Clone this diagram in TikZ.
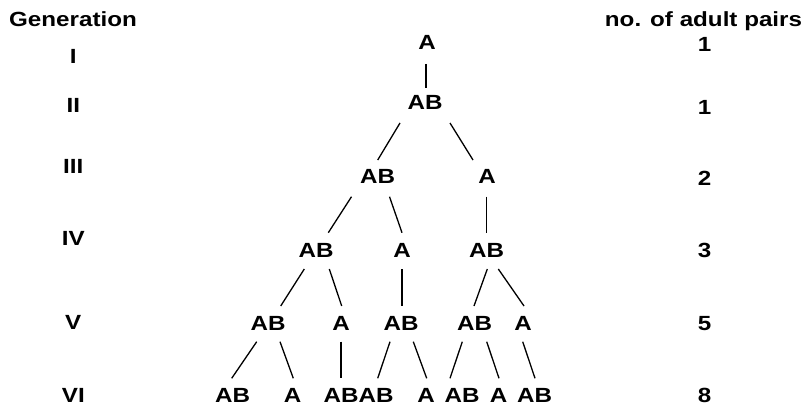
\documentclass[tikz,border=0pt]{standalone}
\usepackage{fontspec}
\usepackage{graphicx}
\newfontfamily\libsans{Liberation Sans}
\newcommand\sx[1]{\scalebox{1.18}[1]{#1}}
\tikzset{
  lbl/.style={font=\libsans\bfseries\fontsize{20.5}{24}\selectfont, anchor=base, inner sep=0pt},
  edge/.style={draw=black, line width=1.3pt}
}
\begin{document}
\begin{tikzpicture}[x=1pt,y=-1pt]
\useasboundingbox[fill=white] (0,0) rectangle (805,409);
% headers
\node[lbl] (hgen) at (73,27) {\sx{Generation}};
\node[lbl] (hpairs) at (703.5,26.7) {\sx{no. of adult pairs}};
% generation numerals
\node[lbl] (g1) at (73.3,63.3) {\sx{I}};
\node[lbl] (g2) at (73.3,113) {\sx{II}};
\node[lbl] (g3) at (73.3,173) {\sx{III}};
\node[lbl] (g4) at (73.3,245) {\sx{IV}};
\node[lbl] (g5) at (73.3,329) {\sx{V}};
\node[lbl] (g6) at (73.3,402.7) {\sx{VI}};
% counts
\node[lbl] (c1) at (704.5,52) {\sx{1}};
\node[lbl] (c2) at (704.5,115) {\sx{1}};
\node[lbl] (c3) at (704.5,185) {\sx{2}};
\node[lbl] (c4) at (704.5,257) {\sx{3}};
\node[lbl] (c5) at (704.5,330) {\sx{5}};
\node[lbl] (c6) at (704.5,402.7) {\sx{8}};
% tree
\node[lbl] (n1) at (427,50) {\sx{A}};
\node[lbl] (n2) at (425,110) {\sx{AB}};
\node[lbl] (n3a) at (377.5,183) {\sx{AB}};
\node[lbl] (n3b) at (487,183) {\sx{A}};
\node[lbl] (n4a) at (316,257) {\sx{AB}};
\node[lbl] (n4b) at (402,257) {\sx{A}};
\node[lbl] (n4c) at (486.5,257) {\sx{AB}};
\node[lbl] (n5a) at (268,330) {\sx{AB}};
\node[lbl] (n5b) at (341,330) {\sx{A}};
\node[lbl] (n5c) at (401,330) {\sx{AB}};
\node[lbl] (n5d) at (474.5,330) {\sx{AB}};
\node[lbl] (n5e) at (523,330) {\sx{A}};
\node[lbl] (n6a) at (232.6,402.7) {\sx{AB}};
\node[lbl] (n6b) at (292.5,402.7) {\sx{A}};
\node[lbl] (n6c) at (341,402.7) {\sx{AB}};
\node[lbl] (n6d) at (376,402.7) {\sx{AB}};
\node[lbl] (n6e) at (426,402.7) {\sx{A}};
\node[lbl] (n6f) at (462,402.7) {\sx{AB}};
\node[lbl] (n6g) at (498.5,402.7) {\sx{A}};
\node[lbl] (n6h) at (534.5,402.7) {\sx{AB}};
% connectors
\draw[edge] ([shift={(-1,14)}]n1.base) -- ([shift={(1,-22)}]n2.base);
\draw[edge] ([shift={(-25,13)}]n2.base) -- ([shift={(0.2,-23)}]n3a.base);
\draw[edge] ([shift={(25,13)}]n2.base) -- ([shift={(-14,-23)}]n3b.base);
\draw[edge] ([shift={(-26,13.7)}]n3a.base) -- ([shift={(12.3,-24.3)}]n4a.base);
\draw[edge] ([shift={(12,13.7)}]n3a.base) -- ([shift={(0,-24.3)}]n4b.base);
\draw[edge] ([shift={(-0.3,13.7)}]n3b.base) -- ([shift={(0.2,-24.3)}]n4c.base);
\draw[edge] ([shift={(-11.7,12)}]n4a.base) -- ([shift={(12.7,-24)}]n5a.base);
\draw[edge] ([shift={(13.3,12)}]n4a.base) -- ([shift={(0.7,-24)}]n5b.base);
\draw[edge] ([shift={(0,12)}]n4b.base) -- ([shift={(1,-24)}]n5c.base);
\draw[edge] ([shift={(0.8,12)}]n4c.base) -- ([shift={(-0.5,-24)}]n5d.base);
\draw[edge] ([shift={(11.8,12)}]n4c.base) -- ([shift={(1,-24)}]n5e.base);
\draw[edge] ([shift={(-11.3,11.7)}]n5a.base) -- ([shift={(-0.9,-24.4)}]n6a.base);
\draw[edge] ([shift={(12,11.7)}]n5a.base) -- ([shift={(0.8,-24.4)}]n6b.base);
\draw[edge] ([shift={(0,11.7)}]n5b.base) -- ([shift={(0,-24.4)}]n6c.base);
\draw[edge] ([shift={(-11,11.7)}]n5c.base) -- ([shift={(1.7,-24.4)}]n6d.base);
\draw[edge] ([shift={(12.3,11.7)}]n5c.base) -- ([shift={(0.7,-24.4)}]n6e.base);
\draw[edge] ([shift={(-12.2,11.7)}]n5d.base) -- ([shift={(-12,-24.4)}]n6f.base);
\draw[edge] ([shift={(12.2,11.7)}]n5d.base) -- ([shift={(0.5,-24.4)}]n6g.base);
\draw[edge] ([shift={(-0.3,11.7)}]n5e.base) -- ([shift={(0.5,-24.4)}]n6h.base);
\end{tikzpicture}
\end{document}
